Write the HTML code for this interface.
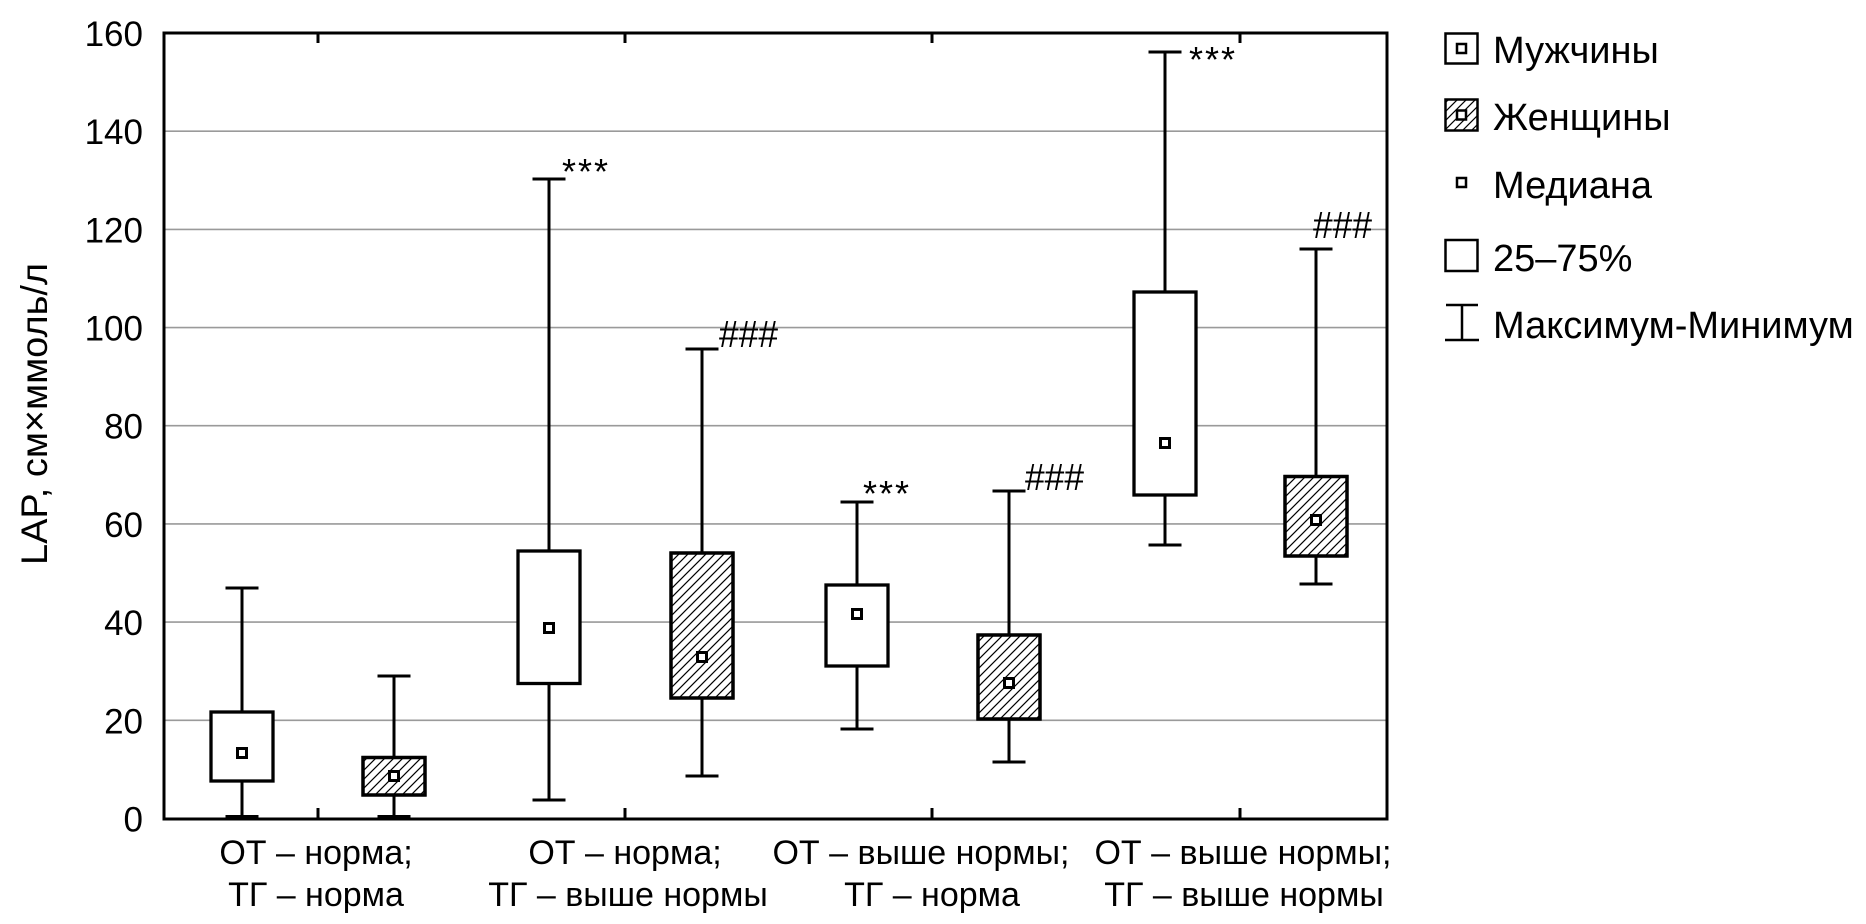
<!DOCTYPE html>
<html>
<head>
<meta charset="utf-8">
<style>
  html, body { margin:0; padding:0; background:#fff; }
  svg { display:block; }
  text { font-family: "Liberation Sans", "DejaVu Sans", sans-serif; fill:#000; }
</style>
</head>
<body>
<svg width="1866" height="924" viewBox="0 0 1866 924" xmlns="http://www.w3.org/2000/svg">
  <defs>
    <pattern id="hatch" patternUnits="userSpaceOnUse" width="9" height="9">
      <path d="M-1,1 L1,-1 M0,9 L9,0 M8,10 L10,8" stroke="#000" stroke-width="1.2"/>
    </pattern>
  </defs>

  <!-- gridlines -->
  <g stroke="#9a9a9a" stroke-width="1.6">
    <line x1="164" y1="720.3" x2="1387" y2="720.3"/>
    <line x1="164" y1="622.1" x2="1387" y2="622.1"/>
    <line x1="164" y1="523.9" x2="1387" y2="523.9"/>
    <line x1="164" y1="425.7" x2="1387" y2="425.7"/>
    <line x1="164" y1="327.6" x2="1387" y2="327.6"/>
    <line x1="164" y1="229.4" x2="1387" y2="229.4"/>
    <line x1="164" y1="131.2" x2="1387" y2="131.2"/>
  </g>

  <!-- y tick labels -->
  <g font-size="35" text-anchor="end">
    <text x="143" y="831.5">0</text>
    <text x="143" y="733.3">20</text>
    <text x="143" y="635.1">40</text>
    <text x="143" y="536.9">60</text>
    <text x="143" y="438.7">80</text>
    <text x="143" y="340.6">100</text>
    <text x="143" y="242.4">120</text>
    <text x="143" y="144.2">140</text>
    <text x="143" y="46">160</text>
  </g>

  <!-- y axis label -->
  <text transform="translate(47,414) rotate(-90)" font-size="37" text-anchor="middle" textLength="302" lengthAdjust="spacingAndGlyphs">LAP, см×ммоль/л</text>

  <!-- whiskers -->
  <g stroke="#000" stroke-width="3" fill="none">
    <!-- M1 -->
    <line x1="242" y1="588" x2="242" y2="816.5"/>
    <line x1="225.5" y1="588" x2="258.5" y2="588"/>
    <line x1="225.5" y1="816.5" x2="258.5" y2="816.5"/>
    <!-- W1 -->
    <line x1="394" y1="676" x2="394" y2="816.5"/>
    <line x1="377.5" y1="676" x2="410.5" y2="676"/>
    <line x1="377.5" y1="816.5" x2="410.5" y2="816.5"/>
    <!-- M2 -->
    <line x1="549" y1="179" x2="549" y2="800"/>
    <line x1="532.5" y1="179" x2="565.5" y2="179"/>
    <line x1="532.5" y1="800" x2="565.5" y2="800"/>
    <!-- W2 -->
    <line x1="702" y1="349" x2="702" y2="776"/>
    <line x1="685.5" y1="349" x2="718.5" y2="349"/>
    <line x1="685.5" y1="776" x2="718.5" y2="776"/>
    <!-- M3 -->
    <line x1="857" y1="502" x2="857" y2="729"/>
    <line x1="840.5" y1="502" x2="873.5" y2="502"/>
    <line x1="840.5" y1="729" x2="873.5" y2="729"/>
    <!-- W3 -->
    <line x1="1009" y1="491" x2="1009" y2="762"/>
    <line x1="992.5" y1="491" x2="1025.5" y2="491"/>
    <line x1="992.5" y1="762" x2="1025.5" y2="762"/>
    <!-- M4 -->
    <line x1="1165" y1="52" x2="1165" y2="545"/>
    <line x1="1148.5" y1="52" x2="1181.5" y2="52"/>
    <line x1="1148.5" y1="545" x2="1181.5" y2="545"/>
    <!-- W4 -->
    <line x1="1316" y1="249" x2="1316" y2="584"/>
    <line x1="1299.5" y1="249" x2="1332.5" y2="249"/>
    <line x1="1299.5" y1="584" x2="1332.5" y2="584"/>
  </g>

  <!-- boxes -->
  <g stroke="#000" stroke-width="3.3">
    <rect x="211" y="712" width="62" height="69" fill="#fff"/>
    <rect x="363" y="757.5" width="62" height="37.5" fill="#fff"/>
    <rect x="363" y="757.5" width="62" height="37.5" fill="url(#hatch)"/>
    <rect x="518" y="551" width="62" height="132.5" fill="#fff"/>
    <rect x="671" y="553" width="62" height="145" fill="#fff"/>
    <rect x="671" y="553" width="62" height="145" fill="url(#hatch)"/>
    <rect x="826" y="585" width="62" height="81" fill="#fff"/>
    <rect x="978" y="635" width="62" height="84" fill="#fff"/>
    <rect x="978" y="635" width="62" height="84" fill="url(#hatch)"/>
    <rect x="1134" y="292" width="62" height="203" fill="#fff"/>
    <rect x="1285" y="476.5" width="62" height="79.5" fill="#fff"/>
    <rect x="1285" y="476.5" width="62" height="79.5" fill="url(#hatch)"/>
  </g>

  <!-- medians -->
  <g stroke="#000" stroke-width="3" fill="#fff">
    <rect x="237.5" y="748.5" width="9" height="9"/>
    <rect x="389.5" y="771.5" width="9" height="9"/>
    <rect x="544.5" y="623.5" width="9" height="9"/>
    <rect x="697.5" y="652.5" width="9" height="9"/>
    <rect x="852.5" y="609.5" width="9" height="9"/>
    <rect x="1004.5" y="678.5" width="9" height="9"/>
    <rect x="1160.5" y="438.5" width="9" height="9"/>
    <rect x="1311.5" y="515.5" width="9" height="9"/>
  </g>

  <!-- plot frame -->
  <rect x="164" y="33" width="1223" height="786" fill="none" stroke="#000" stroke-width="3"/>
  <!-- ticks -->
  <g stroke="#000" stroke-width="3">
    <line x1="318" y1="819" x2="318" y2="808"/>
    <line x1="625" y1="819" x2="625" y2="808"/>
    <line x1="932" y1="819" x2="932" y2="808"/>
    <line x1="1240" y1="819" x2="1240" y2="808"/>
    <line x1="318" y1="33" x2="318" y2="43"/>
    <line x1="625" y1="33" x2="625" y2="43"/>
    <line x1="932" y1="33" x2="932" y2="43"/>
    <line x1="1240" y1="33" x2="1240" y2="43"/>
  </g>

  <!-- significance annotations -->
  <g font-size="36">
    <text x="562" y="184" letter-spacing="2">***</text>
    <text x="863" y="506" letter-spacing="2">***</text>
    <text x="1189" y="72" letter-spacing="2">***</text>
  </g>
  <g font-size="38">
    <text x="719" y="347" textLength="59" lengthAdjust="spacingAndGlyphs">###</text>
    <text x="1025" y="490" textLength="59" lengthAdjust="spacingAndGlyphs">###</text>
    <text x="1313" y="238" textLength="59" lengthAdjust="spacingAndGlyphs">###</text>
  </g>

  <!-- x category labels -->
  <g font-size="34" text-anchor="middle">
    <text x="316" y="864">ОТ – норма;</text>
    <text x="316" y="906">ТГ – норма</text>
    <text x="625" y="864">ОТ – норма;</text>
    <text x="628" y="906">ТГ – выше нормы</text>
    <text x="921" y="864">ОТ – выше нормы;</text>
    <text x="932" y="906">ТГ – норма</text>
    <text x="1243" y="864">ОТ – выше нормы;</text>
    <text x="1244" y="906">ТГ – выше нормы</text>
  </g>

  <!-- legend -->
  <g stroke="#000" stroke-width="2.5" fill="#fff">
    <rect x="1445.5" y="33.5" width="32" height="30"/>
    <rect x="1457" y="44" width="9" height="9"/>
    <rect x="1445.5" y="99.5" width="32" height="31" fill="url(#hatch)"/>
    <rect x="1457" y="110.5" width="9" height="9"/>
    <rect x="1457" y="178" width="9" height="9"/>
    <rect x="1445.5" y="240" width="32" height="31"/>
    <line x1="1446" y1="305" x2="1478" y2="305"/>
    <line x1="1462" y1="305" x2="1462" y2="340"/>
    <line x1="1445" y1="340" x2="1479" y2="340"/>
  </g>
  <g font-size="38">
    <text x="1493" y="63">Мужчины</text>
    <text x="1493" y="130">Женщины</text>
    <text x="1493" y="198">Медиана</text>
    <text x="1493" y="271">25–75%</text>
    <text x="1493" y="338">Максимум-Минимум</text>
  </g>
</svg>
</body>
</html>
